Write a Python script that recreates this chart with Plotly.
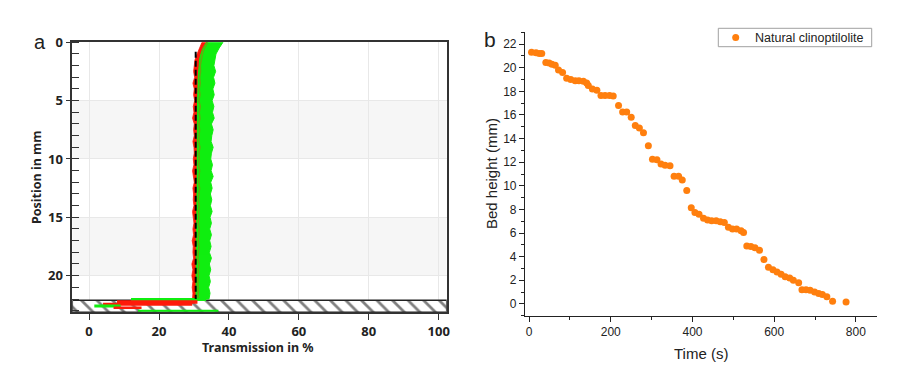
import plotly.graph_objects as go

# ---------------- Panel a data (transmission profiles) ----------------
pos_grid = [0, 0.5, 1, 1.5, 2, 2.5, 3, 3.5, 4, 4.5, 5, 5.5, 6, 6.5, 7, 7.5, 8, 8.5, 9, 9.5,
            10, 10.5, 11, 11.5, 12, 12.5, 13, 13.5, 14, 14.5, 15, 15.5, 16, 16.5, 17, 17.5,
            18, 18.5, 19, 19.5, 20, 20.5, 21, 21.5, 22]
green_right = [38.3, 37.2, 36.3, 36.0, 35.7, 36.2, 35.6, 36.0, 35.4, 35.8, 35.2, 35.7, 35.3, 35.8, 35.0,
               35.5, 35.1, 34.9, 35.5, 35.0, 34.8, 35.3, 34.9, 35.5, 34.8, 35.2, 34.7, 35.1, 34.7, 35.2,
               34.6, 35.0, 34.5, 35.0, 34.5, 34.9, 34.4, 35.0, 34.4, 34.8, 34.3, 34.7, 34.2, 34.6, 34.3]
green_left = [33.6, 32.6, 32.0, 31.6, 31.5, 31.3, 31.2, 31.2, 31.1, 31.1, 31.1, 31.0, 31.0, 31.0, 31.0,
              31.0, 30.9, 30.9, 30.9, 30.9, 30.9, 30.9, 30.9, 30.8, 30.8, 30.8, 30.8, 30.8, 30.8, 30.8,
              30.8, 30.8, 30.7, 30.7, 30.7, 30.7, 30.7, 30.7, 30.6, 30.6, 30.6, 30.6, 30.6, 30.6, 30.6]
red_left = [32.3, 31.5, 30.9, 30.3, 30.1, 29.9, 30.2, 29.7, 30.1, 29.9, 30.2, 29.8, 30.0, 29.6, 30.1,
            29.9, 30.1, 29.7, 30.0, 30.1, 29.8, 30.0, 29.6, 29.9, 30.1, 29.7, 29.9, 29.8, 30.0, 29.6,
            29.9, 30.0, 29.7, 29.9, 29.5, 29.8, 29.7, 29.9, 29.4, 29.7, 29.4, 29.7, 29.5, 29.7, 29.6]
red_right = [33.8, 32.8, 32.2, 31.8, 31.6, 31.5, 31.4, 31.4, 31.3, 31.3, 31.3, 31.2, 31.2, 31.2, 31.2,
             31.2, 31.1, 31.1, 31.1, 31.1, 31.1, 31.1, 31.0, 31.0, 31.0, 31.0, 31.0, 31.0, 31.0, 31.0,
             31.0, 31.0, 30.9, 30.9, 30.9, 30.9, 30.9, 30.9, 30.9, 30.9, 30.8, 30.8, 30.8, 30.8, 30.8]
olive_mid = [33.9, 32.9, 32.4, 32.0, 31.8, 31.9, 31.6, 31.8, 31.5, 31.7, 31.4, 31.8, 31.5, 31.7, 31.4,
             31.6, 31.5, 31.3, 31.7, 31.4, 31.5, 31.3, 31.6, 31.4, 31.3, 31.6, 31.4, 31.2, 31.5, 31.3,
             31.4, 31.2, 31.5, 31.3, 31.2, 31.4, 31.3, 31.1, 31.4, 31.2, 31.3, 31.1, 31.2, 31.3, 31.2]
dashed_pos = [0.8, 22.0]
dashed_trans = [30.5, 30.5]
# bottom tails (horizontal parts of the profiles at the sample bottom)
tail_green1_x = [12, 33.5]; tail_green1_y = [22.05, 22.05]
tail_red1_x = [8, 31]; tail_red1_y = [22.25, 22.25]
tail_red2_x = [4, 29.5]; tail_red2_y = [22.45, 22.45]
tail_green2_x = [1.5, 9]; tail_green2_y = [22.6, 22.6]
tail_red3_x = [7, 15]; tail_red3_y = [22.75, 22.75]
tail_green3_x = [14, 37]; tail_green3_y = [23.0, 23.0]
bottom_zone_x = [-4.8, 102.3, 102.3, -4.8, -4.8]
bottom_zone_y = [22.1, 22.1, 23.14, 23.14, 22.1]
a_xticks = [0, 20, 40, 60, 80, 100]
a_yticks = [0, 5, 10, 15, 20]

# ---------------- Panel b data (bed height vs time) ----------------
time_s = [6, 17, 25, 31, 41, 49, 56, 64, 72, 82, 92, 102, 113, 122, 133, 141, 145, 155, 166, 176,
          186, 197, 206, 219, 229, 239, 250, 260, 270, 280, 292, 302, 313, 323, 333, 345, 355, 366,
          375, 386, 397, 406, 416, 427, 437, 447, 458, 468, 478, 488, 498, 508, 519, 525, 533, 543,
          553, 564, 575, 586, 597, 607, 617, 627, 638, 647, 660, 668, 678, 688, 699, 709, 718, 729,
          743, 776]
bed_height = [21.3, 21.27, 21.2, 21.2, 20.45, 20.4, 20.3, 20.2, 19.8, 19.6, 19.1, 19.0, 18.9, 18.9,
              18.85, 18.7, 18.5, 18.2, 18.1, 17.65, 17.65, 17.65, 17.6, 16.8, 16.25, 16.25, 15.8,
              15.1, 14.9, 14.5, 13.4, 12.25, 12.2, 11.85, 11.75, 11.7, 10.8, 10.8, 10.5, 9.6, 8.15,
              7.75, 7.6, 7.25, 7.1, 7.05, 7.05, 6.95, 6.9, 6.5, 6.35, 6.35, 6.2, 6.05, 4.9, 4.85,
              4.75, 4.55, 3.75, 3.1, 2.9, 2.7, 2.5, 2.3, 2.2, 2.0, 1.8, 1.2, 1.2, 1.15, 1.0, 0.88,
              0.8, 0.6, 0.23, 0.17]
b_xticks = [0, 200, 400, 600, 800]
b_yticks = [0, 2, 4, 6, 8, 10, 12, 14, 16, 18, 20, 22]
legend_label = "Natural clinoptilolite"

# page offset (body margin) compensation
OFF = 8
W, H = 900 - OFF, 391 - OFF

def px(p):
    return (p - OFF) / W

def py(p):
    return 1 - (p - OFF) / H

A_DOM_X = [px(72.3), px(446.7)]
A_DOM_Y = [py(312.3), py(42.3)]
B_DOM_X = [px(525), px(876.7)]
B_DOM_Y = [py(315.7), py(32.3)]

GREEN = "#10ee10"
RED = "#ff1a0a"
OLIVE = "#8c8c10"
ORANGE = "#ff7f0e"
AF = "Noto Sans"
BF = "Liberation Sans"

fig = go.Figure()

def band(left, right, color, opacity=1.0, lw=1.0):
    xs = list(left) + list(reversed(right)) + [left[0]]
    ys = list(pos_grid) + list(reversed(pos_grid)) + [pos_grid[0]]
    fig.add_trace(go.Scatter(x=xs, y=ys, mode="lines", fill="toself", fillcolor=color,
                             line=dict(color=color, width=lw), opacity=opacity,
                             xaxis="x", yaxis="y", showlegend=False, hoverinfo="skip"))

# hatched bottom zone
fig.add_trace(go.Scatter(x=bottom_zone_x, y=bottom_zone_y, mode="lines", fill="toself",
                         fillcolor="white",
                         fillpattern=dict(shape="\\", fgcolor="black", bgcolor="white",
                                          size=11, solidity=0.25),
                         line=dict(color="#222222", width=1.5),
                         xaxis="x", yaxis="y", showlegend=False, hoverinfo="skip"))

band(red_left, red_right, RED, lw=0.8)
band(green_left, green_right, GREEN)
fig.add_trace(go.Scatter(x=olive_mid, y=pos_grid, mode="lines", line=dict(color=OLIVE, width=1.5),
                         opacity=0.7, xaxis="x", yaxis="y", showlegend=False, hoverinfo="skip"))

for tx, ty, col, wdt in [(tail_green1_x, tail_green1_y, GREEN, 3),
                         (tail_red1_x, tail_red1_y, RED, 3.5),
                         (tail_red2_x, tail_red2_y, RED, 3),
                         (tail_green2_x, tail_green2_y, GREEN, 3),
                         (tail_red3_x, tail_red3_y, RED, 2.5),
                         (tail_green3_x, tail_green3_y, GREEN, 2)]:
    fig.add_trace(go.Scatter(x=tx, y=ty, mode="lines", line=dict(color=col, width=wdt),
                             xaxis="x", yaxis="y", showlegend=False, hoverinfo="skip"))

fig.add_trace(go.Scatter(x=dashed_trans, y=dashed_pos, mode="lines",
                         line=dict(color="black", width=2, dash="6px,3px"),
                         xaxis="x", yaxis="y", showlegend=False, hoverinfo="skip"))

# panel b scatter
fig.add_trace(go.Scatter(x=time_s, y=bed_height, mode="markers", name=legend_label,
                         marker=dict(color=ORANGE, size=7, line=dict(width=0)),
                         xaxis="x2", yaxis="y2", showlegend=False))

shapes = []
for y0, y1 in [(5, 10), (15, 20)]:
    shapes.append(dict(type="rect", xref="x", yref="y", x0=-4.8, x1=102.3, y0=y0, y1=y1,
                       fillcolor="#f6f6f6", line=dict(width=0), layer="below"))
# legend box (drawn as shapes + annotation)
shapes.append(dict(type="rect", xref="paper", yref="paper", x0=px(718.3), x1=px(871.7),
                   y0=py(46.7), y1=py(28.3), line=dict(color="#a0a0a0", width=1),
                   fillcolor="white"))
shapes.append(dict(type="circle", xref="paper", yref="paper", x0=px(732.2), x1=px(739.2),
                   y0=py(41.0), y1=py(34.0), line=dict(width=0), fillcolor=ORANGE))

def ann(text, x, y, size, family, angle=0, weight="normal", xanchor="center"):
    return dict(text=text, x=px(x), y=py(y), xref="paper", yref="paper", showarrow=False,
                xanchor=xanchor, yanchor="middle", textangle=angle,
                font=dict(family=family, size=size, color="#222222", weight=weight))

fig.update_layout(
    width=W, height=H, margin=dict(l=0, r=0, t=0, b=0, pad=0), autosize=False,
    paper_bgcolor="white", plot_bgcolor="white",
    shapes=shapes,
    xaxis=dict(domain=A_DOM_X, anchor="y", range=[-4.8, 102.3], tickvals=a_xticks,
               showgrid=True, gridcolor="#e8e8e8", gridwidth=1, zeroline=False,
               showline=True, linecolor="#333333", linewidth=1.5, mirror=True,
               ticks="outside", ticklen=6, tickcolor="#333333", automargin=False,
               tickfont=dict(family=AF, size=13, color="#222222", weight="bold")),
    yaxis=dict(domain=A_DOM_Y, anchor="x", range=[23.14, 0], tickvals=a_yticks,
               showgrid=True, gridcolor="#e8e8e8", gridwidth=1, zeroline=False,
               showline=True, linecolor="#333333", linewidth=1.5, mirror=True,
               ticks="outside", ticklen=5, tickcolor="#333333", automargin=False,
               minor=dict(dtick=1, ticks="inside", ticklen=7, tickcolor="#333333", showgrid=False),
               tickfont=dict(family=AF, size=13, color="#222222", weight="bold")),
    xaxis2=dict(domain=B_DOM_X, anchor="y2", range=[-10, 851], tickvals=b_xticks,
                showgrid=False, zeroline=False, showline=True, linecolor="#222222", linewidth=1.2,
                ticks="outside", ticklen=5, tickcolor="#222222", automargin=False,
                minor=dict(dtick=100, ticks="outside", ticklen=3, tickcolor="#222222"),
                tickfont=dict(family=BF, size=12, color="#222222")),
    yaxis2=dict(domain=B_DOM_Y, anchor="x2", range=[-1, 23], tickvals=b_yticks,
                showgrid=False, zeroline=False, showline=True, linecolor="#222222", linewidth=1.2,
                ticks="outside", ticklen=5, tickcolor="#222222", automargin=False,
                minor=dict(dtick=1, ticks="outside", ticklen=3, tickcolor="#222222"),
                tickfont=dict(family=BF, size=12, color="#222222")),
    showlegend=False,
    annotations=[
        ann("a", 40, 42, 20, BF),
        ann("b", 490, 40, 21, BF),
        ann("Transmission in %", 258, 347, 12.5, AF, weight="bold"),
        ann("Position in mm", 36, 178, 12.5, AF, angle=-90, weight="bold"),
        ann("Time (s)", 701, 353, 15, BF),
        ann("Bed height (mm)", 491, 173, 15, BF, angle=-90),
        ann(legend_label, 753, 37.5, 12.5, BF, xanchor="left"),
    ],
)

fig.write_html("out.html")
